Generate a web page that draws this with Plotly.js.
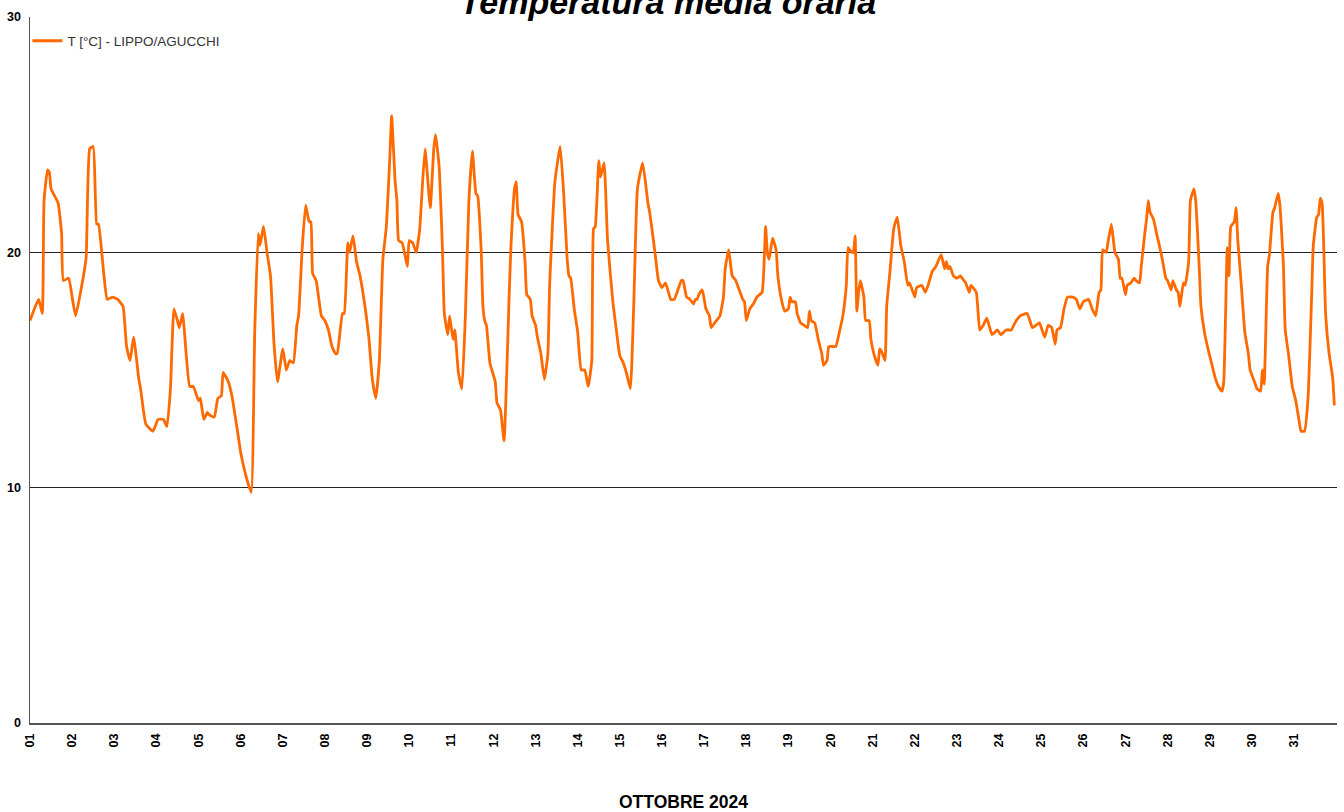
<!DOCTYPE html>
<html>
<head>
<meta charset="utf-8">
<script src="https://cdn.plot.ly/plotly-3.0.1.min.js"></script>
<style>html,body{margin:0;padding:0;background:#fff;}#chart{width:1344px;height:812px;}</style>
</head>
<body>
<div id="chart"></div>
<script>
// Hours since 1 Oct 2024 00:00 (hourly readings)
const hours = [
0,3,5,7,8,10,11,12,14,16,18,19,22,24,26,30,32,34,36,38,39,42,44,47,50,53,55,57,59,62,63,66,70,73,76,78,80,82,84,85,87,88,91,93,96,97,99,101,102,105,107,109,110,113,115,118,120,123,126,
128,130,131,133,135,137,139,141,144,146,148,150,152,153,155,157,159,160,161,163,166,168,170,172,174,175,178,179,181,182,184,186,188,191,193,195,197,199,201,203,205,206,208,209,210,212,215,216,218,220,222,223,225,228,230,231,233,235,236,238,239,241,242,244,246,
248,250,252,254,255,257,258,259,260,262,265,266,268,270,273,274,276,277,278,280,282,283,285,286,288,289,291,293,295,296,299,302,304,306,307,308,310,312,314,316,318,320,321,322,324,325,327,329,332,334,336,338,340,342,344,346,349,352,353,356,358,360,362,365,367,371,372,374,
376,378,379,380,381,383,385,387,388,390,393,395,396,398,400,402,404,406,407,408,410,412,414,417,419,420,421,423,425,426,428,430,432,433,434,436,437,439,441,443,444,445,447,449,451,452,454,455,457,459,461,463,465,466,468,469,470,471,472,473,475,476,478,479,481,483,484,485,487,488,490,492,494,496,498,
500,501,504,505,508,510,512,514,516,519,521,522,523,524,526,528,530,532,533,535,536,539,541,543,545,548,551,553,556,559,561,564,568,571,573,575,578,580,582,584,585,587,589,591,594,596,598,600,603,605,607,609,610,611,613,614,616,618,620,621,622,
624,625,627,629,630,632,633,635,636,637,638,640,642,643,645,647,648,650,651,653,654,655,657,658,660,661,663,664,666,667,669,671,673,675,677,679,680,682,683,684,686,687,688,690,692,694,695,697,699,701,702,703,705,706,708,709,711,712,714,715,717,719,721,723,724,726,728,730,731,733,734,735,736,737,738,740,742,743
];
const tempC = [
17.1,17.7,18.0,17.4,22.2,23.5,23.4,22.7,22.4,22.1,20.8,18.8,18.9,18.1,17.3,18.8,19.8,24.4,24.5,21.2,21.2,19.1,18.0,18.1,18.0,17.7,16.0,15.4,16.4,14.6,14.2,12.7,12.4,12.9,12.9,12.6,14.2,17.6,17.1,16.8,17.4,16.6,14.3,14.3,13.7,13.8,12.9,13.2,13.1,13.0,13.8,13.9,14.9,14.5,13.9,12.5,11.5,10.5,9.8,
16.6,20.8,20.3,21.1,20.0,19.0,16.1,14.5,15.9,15.0,15.4,15.3,16.9,17.3,20.1,22.0,21.3,21.3,19.1,18.8,17.3,17.1,16.7,16.0,15.7,15.7,17.4,17.4,20.4,20.0,20.7,19.6,19.0,17.6,16.4,14.6,13.8,15.4,19.7,21.1,24.1,25.8,23.0,22.2,20.5,20.4,19.4,20.5,20.4,20.0,21.0,22.2,24.4,21.9,24.4,25.0,23.7,20.0,17.4,16.5,17.3,16.3,16.7,14.9,14.2,
17.3,22.2,24.3,22.5,22.4,20.1,17.7,17.1,16.9,15.3,14.5,13.6,13.3,12.0,18.3,20.3,22.7,23.0,21.6,21.3,19.6,18.2,18.0,17.3,16.9,16.4,15.7,14.6,15.7,18.6,23.0,24.5,22.5,19.7,19.0,18.9,17.6,16.6,15.0,15.0,14.3,15.4,21.0,21.1,23.9,23.2,23.8,20.5,17.9,16.7,15.6,15.3,14.8,14.2,18.0,22.7,23.8,22.1,21.7,20.0,18.8,18.5,18.7,18.0,18.0,18.8,18.8,18.1,
18.0,17.8,18.0,18.0,18.2,18.4,17.6,17.3,16.8,17.0,17.3,18.1,19.3,20.1,19.0,18.8,18.4,18.0,17.9,17.1,17.6,17.8,18.1,18.3,21.1,20.0,19.7,20.6,20.1,19.0,18.0,17.5,17.6,18.1,17.9,17.9,17.4,17.0,16.9,16.8,17.5,17.1,17.0,16.3,15.7,15.2,15.4,16.0,16.0,16.0,16.6,17.3,18.6,20.2,20.0,20.0,20.7,17.5,18.3,18.8,18.1,17.1,17.1,16.3,15.6,15.2,15.9,15.8,15.4,17.7,19.3,21.0,21.5,20.3,19.6,
18.6,18.7,18.1,18.5,18.6,18.3,18.7,19.2,19.4,19.9,19.3,19.6,19.3,19.4,19.0,18.9,19.0,18.8,18.7,18.3,18.6,18.3,16.7,16.9,17.2,16.5,16.7,16.5,16.7,16.7,17.0,17.3,17.4,16.8,16.9,17.0,16.4,16.9,16.8,16.1,16.7,16.8,17.6,18.1,18.1,18.0,17.6,17.9,18.0,17.6,17.3,18.3,18.4,20.1,20.0,20.4,21.2,20.0,19.7,18.9,18.9,
18.2,18.6,18.7,18.9,18.8,18.7,19.4,20.8,21.4,22.2,21.7,21.4,20.7,20.4,19.7,18.9,18.8,18.4,18.8,18.4,18.3,17.7,18.7,18.6,19.6,22.2,22.7,22.2,19.4,17.7,16.6,15.9,15.3,14.7,14.3,14.1,14.5,20.2,19.0,21.1,21.3,21.9,20.5,18.6,16.6,15.7,15.0,14.6,14.2,14.1,15.0,14.4,19.4,19.9,21.7,21.9,22.5,22.0,19.4,16.7,15.6,14.3,13.7,12.8,12.4,12.4,13.8,18.0,20.3,21.5,21.6,22.3,22.1,20.1,17.4,15.7,14.7,13.5
];
const seriesName = "T [°C] - LIPPO/AGUCCHI";
const dayTickHours = [0,24,48,72,96,120,144,168,192,216,240,264,288,312,336,360,384,408,432,456,480,504,528,552,576,600,624,648,672,696,720];
const dayTickLabels = ["01","02","03","04","05","06","07","08","09","10","11","12","13","14","15","16","17","18","19","20","21","22","23","24","25","26","27","28","29","30","31"];
const yTickVals = [0,10,20,30];
const chartTitle = "Temperatura media oraria";
const xAxisTitle = "OTTOBRE 2024";

const FONT = "Liberation Sans, Arial, sans-serif";

Plotly.newPlot("chart", [{
  x: hours,
  y: tempC,
  type: "scatter",
  mode: "lines",
  name: seriesName,
  line: {color: "#ff6a00", width: 2.8, shape: "spline", smoothing: 0.4},
  showlegend: true
}], {
  width: 1344, height: 812,
  margin: {l: 30, r: 7, t: 17, b: 89, pad: 0},
  paper_bgcolor: "#ffffff",
  plot_bgcolor: "#ffffff",
  font: {family: FONT, color: "#000"},
  title: {
    text: chartTitle,
    font: {family: FONT, size: 34, weight: "bold", style: "italic", color: "#000"},
    x: 0.497, xanchor: "center", xref: "container",
    y: 0.9978, yanchor: "middle", yref: "container"
  },
  showlegend: true,
  legend: {
    x: -0.002, xanchor: "left", y: 0.988, yanchor: "top",
    bgcolor: "rgba(0,0,0,0)",
    font: {family: FONT, size: 13.5, color: "#333"}
  },
  xaxis: {
    range: [0, 744.5],
    tickmode: "array",
    tickvals: dayTickHours,
    ticktext: dayTickLabels,
    tickangle: -90,
    tickfont: {family: FONT, size: 12.5, weight: "bold", color: "#000"},
    ticks: "",
    ticklabelstandoff: 4,
    showgrid: false,
    zeroline: false,
    showline: true,
    linecolor: "#555",
    linewidth: 1.5,
    automargin: false,
    title: {text: xAxisTitle, font: {family: FONT, size: 17.5, weight: "bold", color: "#000"}, standoff: 55}
  },
  yaxis: {
    range: [0, 30],
    tickmode: "array",
    tickvals: yTickVals,
    tickfont: {family: FONT, size: 12.5, weight: "bold", color: "#000"},
    ticks: "",
    ticklabelstandoff: 5,
    showgrid: true,
    gridcolor: "#222",
    gridwidth: 1,
    zeroline: false,
    showline: true,
    linecolor: "#555",
    linewidth: 1.5,
    automargin: false
  }
}, {displayModeBar: false, staticPlot: true});
</script>
</body>
</html>
